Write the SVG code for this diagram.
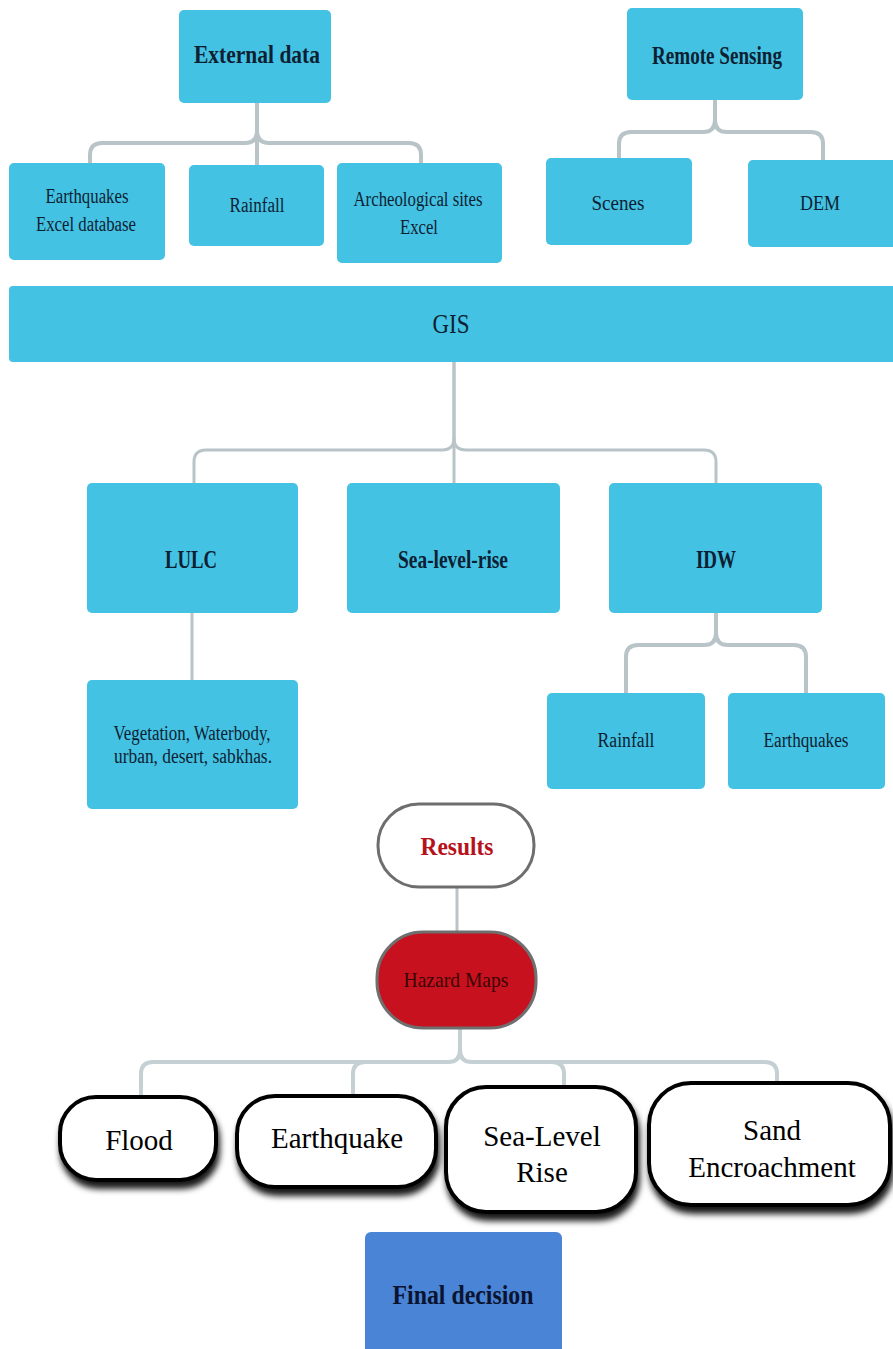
<svg xmlns="http://www.w3.org/2000/svg" width="893" height="1349" viewBox="0 0 893 1349" font-family="Liberation Serif, DejaVu Serif, serif">
<style>
.box{fill:#44c2e3;}
.t{fill:#0d1f33;text-anchor:middle;}
.r{font-size:20px;}
.b{font-size:25px;font-weight:bold;}
.conn{fill:none;stroke:#b9c4c9;stroke-width:4;stroke-linecap:round;}
.conn2{fill:none;stroke:#c5d0d4;stroke-width:4;stroke-linecap:round;}
.pill{fill:#ffffff;stroke:#000000;stroke-width:4;filter:url(#sh);}
.pt{font-size:29px;fill:#000;text-anchor:middle;}
</style>
<defs>
<filter id="sh" x="-10%" y="-10%" width="125%" height="135%">
<feDropShadow dx="2" dy="7" stdDeviation="3" flood-color="#000" flood-opacity="0.9"/>
</filter>
</defs>
<rect width="893" height="1349" fill="#ffffff"/>
<g id="connectors">
<path class="conn" d="M257,103 V130 Q257,143 245,143 H102 Q90,143 90,155 V163"/>
<path class="conn" d="M257,130 Q257,143 269,143 H409 Q421,143 421,155 V163"/>
<path class="conn" d="M257,103 V165"/>
<path class="conn" d="M715,100 V120 Q715,132 703,132 H631 Q619,132 619,144 V158"/>
<path class="conn" d="M715,120 Q715,132 727,132 H811 Q823,132 823,144 V160"/>
<path class="conn" d="M454,362 V438 Q454,450 442,450 H206 Q194,450 194,462 V483" style="stroke-width:3"/>
<path class="conn" d="M454,438 Q454,450 466,450 H704 Q716,450 716,462 V483" style="stroke-width:3"/>
<path class="conn" d="M454,362 V483" style="stroke-width:3"/>
<path class="conn" d="M192,613 V680" style="stroke-width:3"/>
<path class="conn" d="M716,613 V633 Q716,645 704,645 H638 Q626,645 626,657 V693"/>
<path class="conn" d="M716,633 Q716,645 728,645 H794 Q806,645 806,657 V693"/>
<path class="conn" d="M457,887 V932" style="stroke-width:3"/>
<path class="conn2" d="M460,1028 V1050 Q460,1062 448,1062 H153 Q141,1062 141,1074 V1097"/>
<path class="conn2" d="M460,1050 Q460,1062 472,1062 H765 Q777,1062 777,1074 V1083"/>
<path class="conn2" d="M365,1062 Q353,1062 353,1074 V1095"/>
<path class="conn2" d="M552,1062 Q564,1062 564,1074 V1087"/>
</g>
<g id="external-data"><rect class="box" x="179" y="10" width="152" height="93" rx="5"/><text class="t b" x="257" y="63" textLength="126" lengthAdjust="spacingAndGlyphs">External data</text></g>
<g id="earthquakes-excel"><rect class="box" x="9" y="163" width="156" height="97" rx="5"/><text class="t r" x="87" y="203" textLength="83" lengthAdjust="spacingAndGlyphs">Earthquakes</text><text class="t r" x="86" y="231" textLength="100" lengthAdjust="spacingAndGlyphs">Excel database</text></g>
<g id="rainfall-ext"><rect class="box" x="189" y="165" width="135" height="81" rx="5"/><text class="t r" x="257" y="212" textLength="55" lengthAdjust="spacingAndGlyphs">Rainfall</text></g>
<g id="archeological"><rect class="box" x="337" y="163" width="165" height="100" rx="5"/><text class="t r" x="418" y="206" textLength="129" lengthAdjust="spacingAndGlyphs">Archeological sites</text><text class="t r" x="419" y="234" textLength="38" lengthAdjust="spacingAndGlyphs">Excel</text></g>
<g id="remote-sensing"><rect class="box" x="627" y="8" width="176" height="92" rx="5"/><text class="t b" x="717" y="64" textLength="130" lengthAdjust="spacingAndGlyphs">Remote Sensing</text></g>
<g id="scenes"><rect class="box" x="546" y="158" width="146" height="87" rx="5"/><text class="t r" x="618" y="210" textLength="53" lengthAdjust="spacingAndGlyphs">Scenes</text></g>
<g id="dem"><rect class="box" x="748" y="160" width="150" height="87" rx="5"/><text class="t r" x="820" y="210" textLength="40" lengthAdjust="spacingAndGlyphs">DEM</text></g>
<g id="gis"><rect class="box" x="9" y="286" width="894" height="76" rx="4"/><text class="t" x="451" y="333" style="font-size:27px" textLength="37" lengthAdjust="spacingAndGlyphs">GIS</text></g>
<g id="lulc"><rect class="box" x="87" y="483" width="211" height="130" rx="5"/><text class="t b" x="191" y="568" textLength="52" lengthAdjust="spacingAndGlyphs">LULC</text></g>
<g id="sea-level-rise"><rect class="box" x="347" y="483" width="213" height="130" rx="5"/><text class="t b" x="453" y="568" textLength="110" lengthAdjust="spacingAndGlyphs">Sea-level-rise</text></g>
<g id="idw"><rect class="box" x="609" y="483" width="213" height="130" rx="5"/><text class="t b" x="716" y="568" textLength="40" lengthAdjust="spacingAndGlyphs">IDW</text></g>
<g id="land-classes"><rect class="box" x="87" y="680" width="211" height="129" rx="5"/><text class="t r" x="192" y="740" textLength="157" lengthAdjust="spacingAndGlyphs">Vegetation, Waterbody,</text><text class="t r" x="193" y="763" textLength="158" lengthAdjust="spacingAndGlyphs">urban, desert, sabkhas.</text></g>
<g id="rainfall-idw"><rect class="box" x="547" y="693" width="158" height="96" rx="5"/><text class="t r" x="626" y="747" textLength="57" lengthAdjust="spacingAndGlyphs">Rainfall</text></g>
<g id="earthquakes-idw"><rect class="box" x="728" y="693" width="157" height="96" rx="5"/><text class="t r" x="806" y="747" textLength="85" lengthAdjust="spacingAndGlyphs">Earthquakes</text></g>
<g id="results"><rect x="378" y="804" width="156" height="83" rx="41" fill="#ffffff" stroke="#6e6e6e" stroke-width="3"/><text class="t b" x="457" y="855" style="fill:#b5121b" textLength="73" lengthAdjust="spacingAndGlyphs">Results</text></g>
<g id="hazard-maps"><rect x="377" y="932" width="159" height="96" rx="46" fill="#c8111e" stroke="#6f6f6f" stroke-width="3"/><text class="t" x="456" y="987" style="font-size:22px;fill:#3a0606" textLength="105" lengthAdjust="spacingAndGlyphs">Hazard Maps</text></g>
<g id="flood"><rect class="pill" x="60" y="1097" width="156" height="83" rx="36"/><text class="pt" x="139" y="1150">Flood</text></g>
<g id="earthquake"><rect class="pill" x="237" y="1096" width="199" height="91" rx="38"/><text class="pt" x="337" y="1148">Earthquake</text></g>
<g id="sea-level-rise-hazard"><rect class="pill" x="446" y="1087" width="190" height="125" rx="40"/><text class="pt" x="542" y="1146">Sea-Level</text><text class="pt" x="542" y="1182">Rise</text></g>
<g id="sand-encroachment"><rect class="pill" x="649" y="1083" width="241" height="122" rx="42"/><text class="pt" x="772" y="1140">Sand</text><text class="pt" x="772" y="1177">Encroachment</text></g>
<g id="final-decision"><rect x="365" y="1232" width="197" height="130" rx="6" fill="#4a84d6"/><text class="t" x="463" y="1304" style="font-size:28px;font-weight:bold;fill:#0a1430" textLength="141" lengthAdjust="spacingAndGlyphs">Final decision</text></g>
</svg>
